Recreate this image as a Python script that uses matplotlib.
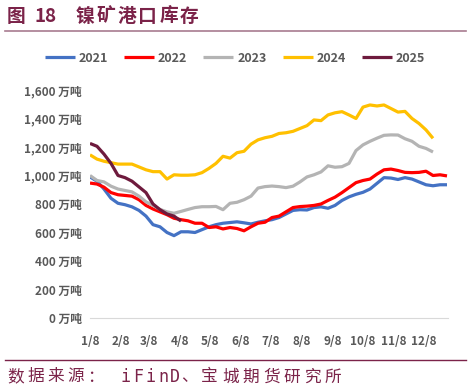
import numpy as np
import pandas as pd
import matplotlib
matplotlib.use("Agg")
import matplotlib.pyplot as plt

plt.rcParams['font.family'] = ['Noto Sans CJK SC', 'DejaVu Sans']

# 周度数据（万吨），起点 1/8
s2021 = [990, 960, 905, 840, 805, 795, 780, 755, 715, 655, 640, 600, 578, 605,
         605, 600, 620, 640, 655, 665, 670, 675, 668, 660, 672, 682, 690, 705,
         730, 755, 760, 758, 775, 780, 770, 790, 825, 850, 868, 882, 905, 945,
         985, 982, 972, 985, 975, 955, 935, 928, 935, 935]
s2022 = [947, 940, 918, 880, 865, 860, 855, 830, 790, 765, 745, 725, 700, 690,
         682, 665, 665, 635, 640, 625, 635, 628, 612, 640, 665, 672, 705, 715,
         745, 775, 782, 785, 790, 800, 825, 848, 880, 915, 950, 965, 975, 1010,
         1040, 1045, 1035, 1022, 1020, 1022, 1030, 1000, 1005, 997]
s2023 = [1000, 965, 955, 925, 905, 895, 885, 855, 815, 790, 762, 745, 735, 748,
         762, 775, 781, 781, 783, 760, 805, 812, 830, 855, 912, 922, 926, 922,
         915, 925, 955, 990, 1005, 1025, 1068, 1058, 1062, 1085, 1175, 1215,
         1240, 1262, 1282, 1285, 1284, 1258, 1240, 1205, 1190, 1165]
s2024 = [1145, 1115, 1100, 1090, 1080, 1080, 1080, 1060, 1040, 1027, 1027, 975,
         1005, 1002, 1002, 1005, 1020, 1050, 1085, 1135, 1122, 1160, 1170, 1220,
         1250, 1265, 1275, 1295, 1300, 1310, 1330, 1350, 1390, 1385, 1425, 1440,
         1448, 1425, 1400, 1480, 1495, 1488, 1495, 1470, 1445, 1450, 1400, 1365,
         1320, 1261]
s2025 = [1225, 1205, 1150, 1085, 1000, 985, 960, 920, 880, 800, 760, 730, 715, 680]

series = [("2021", s2021, "#4472C4"), ("2022", s2022, "#FF0000"),
          ("2023", s2023, "#B4B4B4"), ("2024", s2024, "#FFC000"),
          ("2025", s2025, "#6E1A3D")]

month_labels = [f"{m}/8" for m in range(1, 13)]
start = pd.Timestamp(2021, 1, 8)
month_pos = [(pd.Timestamp(2021, m, 8) - start).days for m in range(1, 13)]

W, H = 471, 391
fig = plt.figure(figsize=(W / 100, H / 100), dpi=100)
ax = fig.add_axes([90 / W, 73 / H, 358 / W, 228 / H])

for name, vals, col in series:
    x = np.arange(len(vals)) * 7
    ax.plot(x, vals, color=col, lw=2.3, label=name, solid_capstyle='butt')

ax.set_xlim(0, 358)
ax.set_ylim(0, 1600)
ax.set_yticks(range(0, 1601, 200))
ax.set_yticklabels([f"{v:,} 万吨" for v in range(0, 1601, 200)])
ax.set_xticks(month_pos)
ax.set_xticklabels(month_labels)
ax.tick_params(axis='both', length=0, labelsize=8.5, colors='#595959')
ax.tick_params(axis='y', pad=6)
ax.tick_params(axis='x', pad=12)
for lab in ax.get_xticklabels() + ax.get_yticklabels():
    lab.set_fontweight('bold')
for sp in ['top', 'right', 'left']:
    ax.spines[sp].set_visible(False)
ax.spines['bottom'].set_color('#D9D9D9')

leg = fig.legend(loc='center', bbox_to_anchor=(235 / W, 1 - 58 / H), ncol=5,
                 frameon=False, fontsize=9, handlelength=2.4, columnspacing=1.3,
                 handletextpad=0.3)
for t in leg.get_texts():
    t.set_color('#595959')
    t.set_fontweight('bold')


def spaced(x0, y, s, step, **kw):
    # 逐字放置，模仿原图较宽的字距
    for i, ch in enumerate(s):
        fig.text((x0 + i * step) / W, 1 - y / H, ch, va='center', ha='center', **kw)


maroon = '#7B2349'
# 标题
spaced(16.5, 16, "图", 0, color=maroon, fontsize=13.5, fontweight='bold')
fig.text(35 / W, 1 - 16 / H, "18", color=maroon, fontsize=13.5, fontweight='bold',
         va='center', ha='left')
spaced(84.5, 16, "镍矿港口库存", 21, color=maroon, fontsize=13.5, fontweight='bold')
fig.add_artist(plt.Line2D([5 / W, 466 / W], [1 - 31 / H, 1 - 31 / H],
                          color='#A87B90', lw=1.2))
fig.add_artist(plt.Line2D([5 / W, 466 / W], [1 - 360 / H, 1 - 360 / H],
                          color=maroon, lw=1.0))
# 数据来源
spaced(15.5, 377, "数据来源：", 20, color=maroon, fontsize=12)
spaced(126, 377, "iFinD", 12.3, color=maroon, fontsize=12,
       family=['DejaVu Sans Mono'])
spaced(189, 377, "、宝城期货研究所", 20.6, color=maroon, fontsize=12)

fig.savefig("out.png", dpi=100)
